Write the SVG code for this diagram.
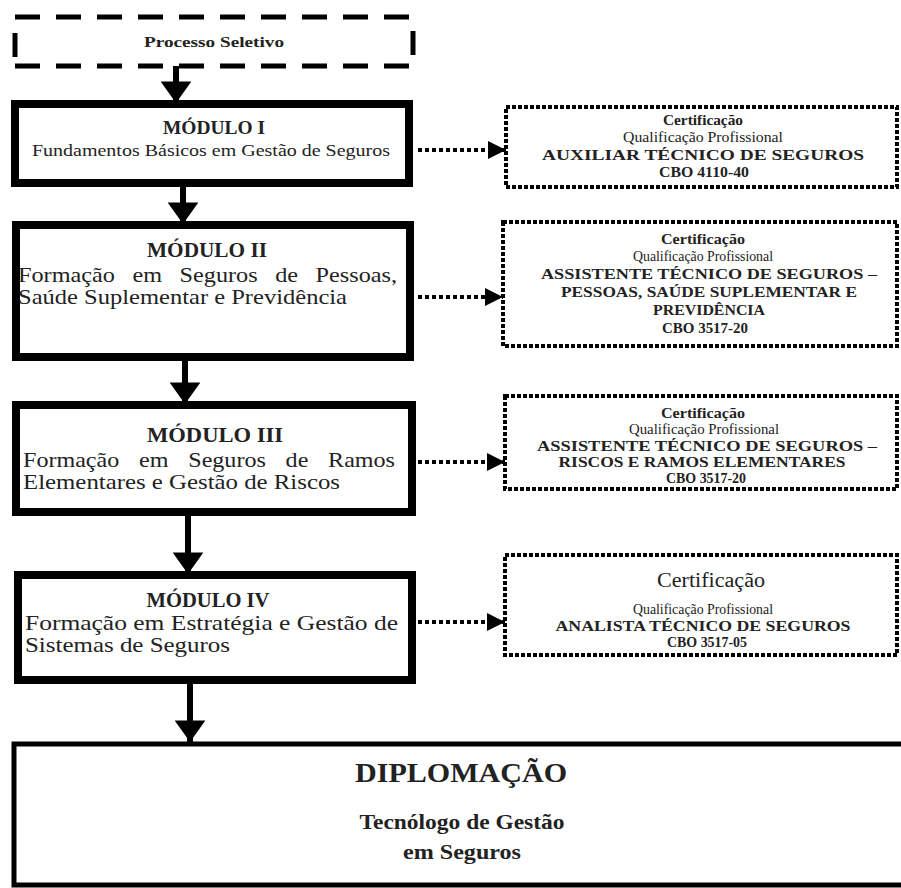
<svg xmlns="http://www.w3.org/2000/svg" width="901" height="888" viewBox="0 0 901 888">
<defs>
<style>
text{font-family:"Liberation Serif","Times New Roman",serif;fill:#222;text-anchor:middle}
.b{font-weight:bold}
.lt{text-anchor:start}
.mod{fill:#fff;stroke:#000;stroke-width:8}
.cert{fill:#fff;stroke:#000;stroke-width:4;stroke-dasharray:4 2}
.dash{stroke:#000;stroke-width:5;stroke-dasharray:25 16;fill:none}
.shaft{stroke:#000;stroke-width:6;fill:none}
.dot{stroke:#000;stroke-width:4;stroke-dasharray:4 3;fill:none}
</style>
<marker id="ah" viewBox="0 0 7 10" refX="7" refY="5" markerWidth="3.6" markerHeight="5.1" orient="auto" markerUnits="strokeWidth"><path d="M0,0 L7,5 L0,10 z" fill="#000"/></marker>
<marker id="ad" viewBox="0 0 10 10" refX="10" refY="5" markerWidth="4.5" markerHeight="4.5" orient="auto" markerUnits="strokeWidth"><path d="M0,0 L10,5 L0,10 z" fill="#000"/></marker>
</defs>
<rect width="901" height="888" fill="#fff"/>

<g id="processo">
<line class="dash" x1="15" y1="17" x2="410" y2="17"/>
<line class="dash" x1="15" y1="66" x2="410" y2="66"/>
<line x1="15" y1="33" x2="15" y2="57" stroke="#000" stroke-width="5"/>
<line x1="413" y1="31" x2="413" y2="55" stroke="#000" stroke-width="5"/>
<text class="b" x="214" y="47" font-size="14" textLength="140" lengthAdjust="spacingAndGlyphs">Processo Seletivo</text>
</g>

<g id="modulo1">
<rect class="mod" x="15" y="104" width="394" height="79"/>
<text class="b" x="214" y="134" font-size="18" textLength="102" lengthAdjust="spacingAndGlyphs">MÓDULO I</text>
<text x="211" y="156" font-size="17" textLength="358" lengthAdjust="spacingAndGlyphs">Fundamentos Básicos em Gestão de Seguros</text>
</g>

<g id="modulo2">
<rect class="mod" x="16" y="225" width="394" height="132"/>
<text class="b" x="207" y="257" font-size="22" textLength="120" lengthAdjust="spacingAndGlyphs">MÓDULO II</text>
<text class="lt" x="18" y="282" font-size="21" word-spacing="10" textLength="379" lengthAdjust="spacingAndGlyphs">Formação em Seguros de Pessoas,</text>
<text class="lt" x="18" y="304" font-size="21" textLength="329" lengthAdjust="spacingAndGlyphs">Saúde Suplementar e Previdência</text>
</g>

<g id="modulo3">
<rect class="mod" x="16" y="405" width="396" height="107"/>
<text class="b" x="215" y="442" font-size="22" textLength="136" lengthAdjust="spacingAndGlyphs">MÓDULO III</text>
<text class="lt" x="23" y="467" font-size="21" word-spacing="12" textLength="372" lengthAdjust="spacingAndGlyphs">Formação em Seguros de Ramos</text>
<text class="lt" x="23" y="489" font-size="21" textLength="317" lengthAdjust="spacingAndGlyphs">Elementares e Gestão de Riscos</text>
</g>

<g id="modulo4">
<rect class="mod" x="18" y="575" width="394" height="105"/>
<text class="b" x="208" y="607" font-size="22" textLength="123" lengthAdjust="spacingAndGlyphs">MÓDULO IV</text>
<text class="lt" x="25" y="630" font-size="21" textLength="373" lengthAdjust="spacingAndGlyphs">Formação em Estratégia e Gestão de</text>
<text class="lt" x="25" y="652" font-size="21" textLength="205" lengthAdjust="spacingAndGlyphs">Sistemas de Seguros</text>
</g>

<g id="diplomacao">
<rect x="14" y="744" width="892" height="141" fill="#fff" stroke="#000" stroke-width="5"/>
<text class="b" x="461" y="782" font-size="28" textLength="212" lengthAdjust="spacingAndGlyphs">DIPLOMAÇÃO</text>
<text class="b" x="462" y="829" font-size="22" textLength="205" lengthAdjust="spacingAndGlyphs">Tecnólogo de Gestão</text>
<text class="b" x="462" y="859" font-size="22" textLength="118" lengthAdjust="spacingAndGlyphs">em Seguros</text>
</g>

<g id="cert1">
<rect class="cert" x="506" y="107" width="391" height="80"/>
<text class="b" x="703" y="125" font-size="14" textLength="80" lengthAdjust="spacingAndGlyphs">Certificação</text>
<text x="703" y="142" font-size="14" textLength="160" lengthAdjust="spacingAndGlyphs">Qualificação Profissional</text>
<text class="b" x="703" y="160" font-size="15" textLength="322" lengthAdjust="spacingAndGlyphs">AUXILIAR TÉCNICO DE SEGUROS</text>
<text class="b" x="704" y="177" font-size="14" textLength="90" lengthAdjust="spacingAndGlyphs">CBO 4110-40</text>
</g>

<g id="cert2">
<rect class="cert" x="503" y="222" width="394" height="124"/>
<text class="b" x="703" y="244" font-size="14" textLength="84" lengthAdjust="spacingAndGlyphs">Certificação</text>
<text x="703" y="261" font-size="14" textLength="140" lengthAdjust="spacingAndGlyphs">Qualificação Profissional</text>
<text class="b" x="709" y="279" font-size="15" textLength="336" lengthAdjust="spacingAndGlyphs">ASSISTENTE TÉCNICO DE SEGUROS –</text>
<text class="b" x="709" y="297" font-size="15" textLength="296" lengthAdjust="spacingAndGlyphs">PESSOAS, SAÚDE SUPLEMENTAR E</text>
<text class="b" x="709" y="315" font-size="15" textLength="112" lengthAdjust="spacingAndGlyphs">PREVIDÊNCIA</text>
<text class="b" x="705" y="333" font-size="14" textLength="86" lengthAdjust="spacingAndGlyphs">CBO 3517-20</text>
</g>

<g id="cert3">
<rect class="cert" x="505" y="396" width="392" height="93"/>
<text class="b" x="703" y="418" font-size="14" textLength="84" lengthAdjust="spacingAndGlyphs">Certificação</text>
<text x="704" y="434" font-size="14" textLength="150" lengthAdjust="spacingAndGlyphs">Qualificação Profissional</text>
<text class="b" x="707" y="451" font-size="15" textLength="340" lengthAdjust="spacingAndGlyphs">ASSISTENTE TÉCNICO DE SEGUROS –</text>
<text class="b" x="702" y="467" font-size="15" textLength="287" lengthAdjust="spacingAndGlyphs">RISCOS E RAMOS ELEMENTARES</text>
<text class="b" x="706" y="483" font-size="14" textLength="80" lengthAdjust="spacingAndGlyphs">CBO 3517-20</text>
</g>

<g id="cert4">
<rect class="cert" x="505" y="555" width="392" height="100"/>
<text x="711" y="587" font-size="20" textLength="108" lengthAdjust="spacingAndGlyphs">Certificação</text>
<text x="703" y="614" font-size="14" textLength="140" lengthAdjust="spacingAndGlyphs">Qualificação Profissional</text>
<text class="b" x="703" y="631" font-size="15" textLength="295" lengthAdjust="spacingAndGlyphs">ANALISTA TÉCNICO DE SEGUROS</text>
<text class="b" x="707" y="647" font-size="14" textLength="80" lengthAdjust="spacingAndGlyphs">CBO 3517-05</text>
</g>

<g id="connectors">
<line class="shaft" x1="176" y1="66" x2="176" y2="103" marker-end="url(#ah)"/>
<line class="shaft" x1="183" y1="183" x2="183" y2="224" marker-end="url(#ah)"/>
<line class="shaft" x1="185" y1="357" x2="185" y2="404" marker-end="url(#ah)"/>
<line class="shaft" x1="188" y1="512" x2="188" y2="574" marker-end="url(#ah)"/>
<line class="shaft" x1="190" y1="680" x2="190" y2="742" marker-end="url(#ah)"/>
<line class="dot" x1="418" y1="150" x2="506" y2="150" marker-end="url(#ad)"/>
<line class="dot" x1="418" y1="297" x2="503" y2="297" marker-end="url(#ad)"/>
<line class="dot" x1="418" y1="462" x2="505" y2="462" marker-end="url(#ad)"/>
<line class="dot" x1="418" y1="622" x2="505" y2="622" marker-end="url(#ad)"/>
</g>
</svg>
